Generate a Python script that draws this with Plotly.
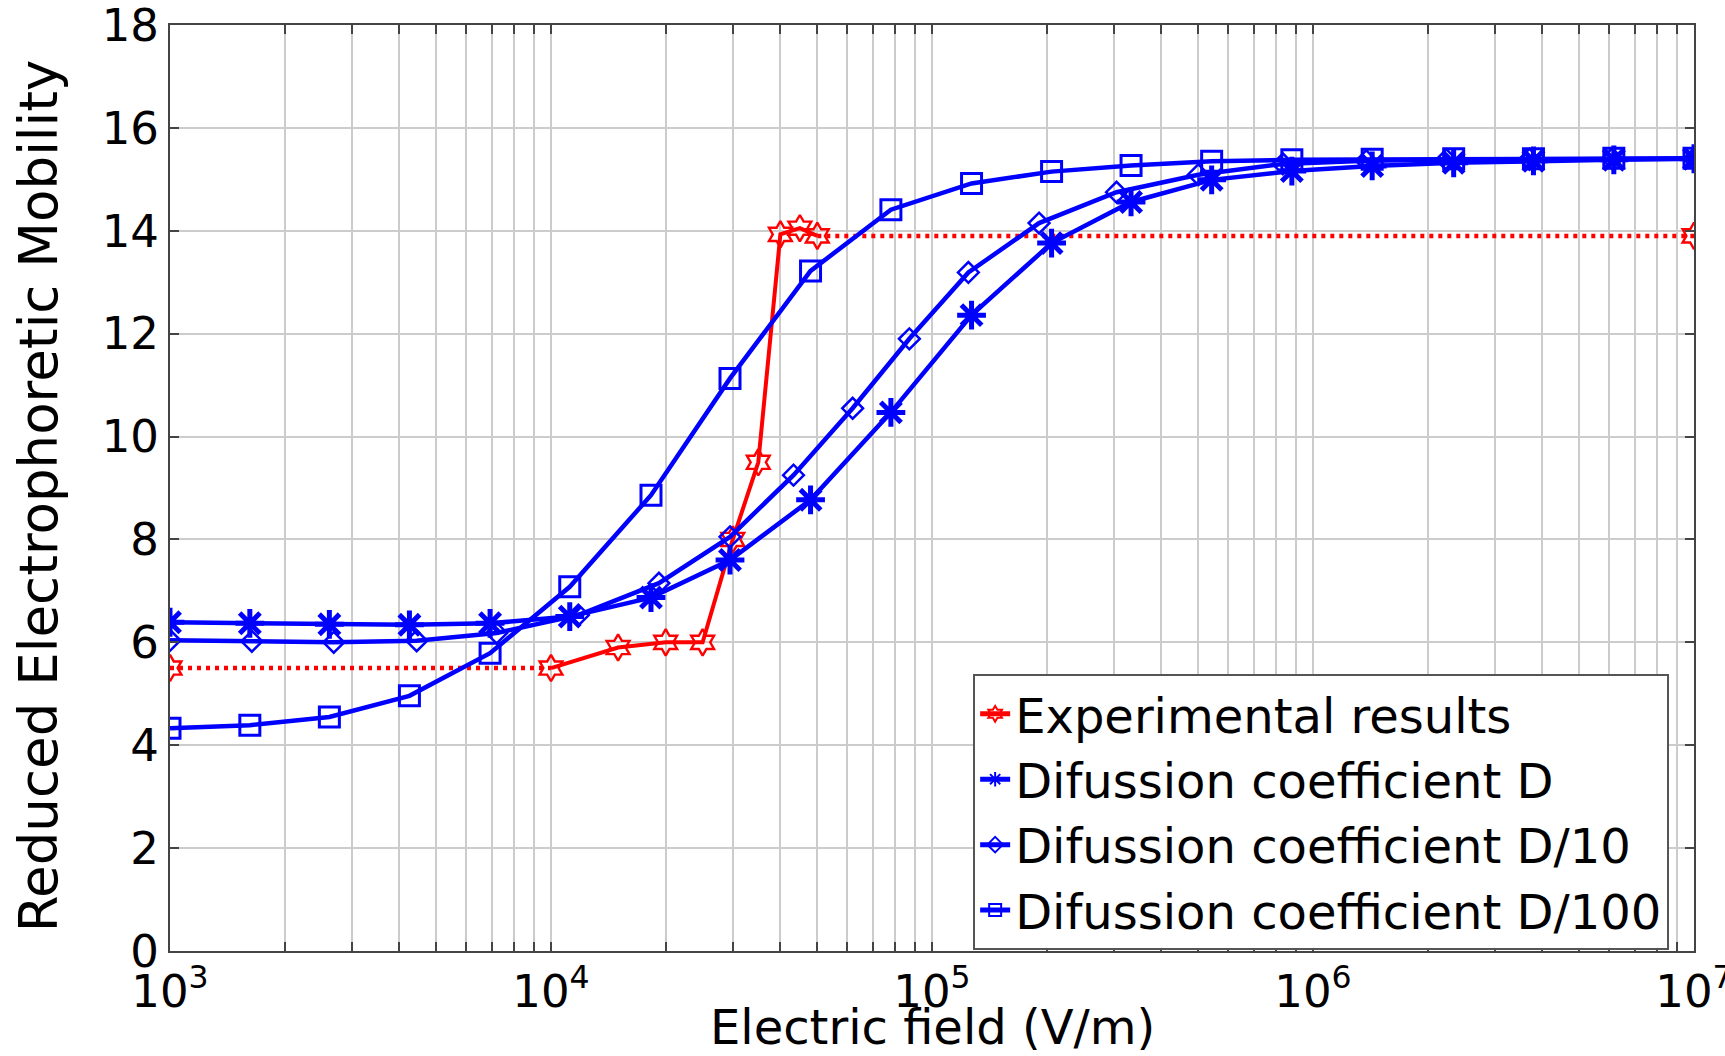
import plotly.graph_objects as go

# Measured reduced electrophoretic mobility (stars)
exp_field = [1e3, 1e4, 1.5e4, 2e4, 2.5e4, 3e4, 3.5e4, 4e4, 4.5e4, 5e4, 1e7]
exp_mobility = [5.5, 5.5, 5.9, 6.0, 6.0, 8.0, 9.5, 13.93, 14.05, 13.9, 13.9]

# Simulation, diffusion coefficient D
field_D = [1000, 1620, 2620, 4250, 6920, 11200, 18300, 29500, 48000, 78000,
           127000, 206000, 333000, 542000, 880000, 1430000, 2340000, 3790000,
           6160000, 10000000]
mobility_D = [6.39, 6.37, 6.35, 6.34, 6.37, 6.5, 6.87, 7.6, 8.77, 10.47,
              12.36, 13.76, 14.56, 14.99, 15.16, 15.26, 15.32, 15.36, 15.38, 15.4]

# Simulation, diffusion coefficient D/10
field_D10 = [1000, 1640, 2690, 4440, 7200, 11800, 19200, 29500, 43300, 61900,
             87200, 124600, 191000, 305000, 500000, 834000, 1380000, 2240000,
             3700000, 6100000, 10000000]
mobility_D10 = [6.04, 6.02, 6.0, 6.03, 6.18, 6.53, 7.15, 8.05, 9.25, 10.55,
                11.9, 13.19, 14.15, 14.75, 15.09, 15.3, 15.36, 15.38, 15.39, 15.4, 15.4]

# Simulation, diffusion coefficient D/100
field_D100 = field_D
mobility_D100 = [4.33, 4.39, 4.55, 4.96, 5.79, 7.08, 8.86, 11.13, 13.22, 14.41,
                 14.92, 15.15, 15.27, 15.35, 15.38, 15.39, 15.4, 15.4, 15.41, 15.41]

series_names = ["Experimental results", "Difussion coefficient D",
                "Difussion coefficient D/10", "Difussion coefficient D/100"]

y_ticks = [0, 2, 4, 6, 8, 10, 12, 14, 16, 18]
x_ticks = [1e3, 1e4, 1e5, 1e6, 1e7]
x_tick_labels = ["10<sup>3</sup>", "10<sup>4</sup>", "10<sup>5</sup>",
                 "10<sup>6</sup>", "10<sup>7</sup>"]
x_title = "Electric field (V/m)"
y_title = "Reduced Electrophoretic Mobility"

RED = "#ff0000"
BLUE = "#0000ff"
FONT = "DejaVu Sans"

fig = go.Figure()

# Dotted extensions of the measurements towards both ends of the field range
fig.add_trace(go.Scatter(
    x=exp_field[:2] + [None] + exp_field[-2:],
    y=exp_mobility[:2] + [None] + exp_mobility[-2:],
    mode="lines", line=dict(color=RED, width=4.5, dash="4px,5px"),
    showlegend=False, hoverinfo="skip"))

# Measured points joined by a solid line
fig.add_trace(go.Scatter(
    x=exp_field[1:-1], y=exp_mobility[1:-1], name=series_names[0],
    mode="lines+markers", line=dict(color=RED, width=4),
    marker=dict(symbol="hexagram-open", size=20, color=RED,
                line=dict(color=RED, width=2.4))))

# End markers of the measured data
fig.add_trace(go.Scatter(
    x=[exp_field[0], exp_field[-1]], y=[exp_mobility[0], exp_mobility[-1]],
    mode="markers", showlegend=False,
    marker=dict(symbol="hexagram-open", size=20, color=RED,
                line=dict(color=RED, width=2.4))))

fig.add_trace(go.Scatter(
    x=field_D, y=mobility_D, name=series_names[1], mode="lines+markers",
    line=dict(color=BLUE, width=4.5),
    marker=dict(symbol="asterisk-open", size=24, color=BLUE,
                line=dict(color=BLUE, width=5))))

fig.add_trace(go.Scatter(
    x=field_D10, y=mobility_D10, name=series_names[2], mode="lines+markers",
    line=dict(color=BLUE, width=4.5),
    marker=dict(symbol="diamond-open", size=16, color=BLUE,
                line=dict(color=BLUE, width=2.5))))

fig.add_trace(go.Scatter(
    x=field_D100, y=mobility_D100, name=series_names[3], mode="lines+markers",
    line=dict(color=BLUE, width=4.5),
    marker=dict(symbol="square-open", size=20, color=BLUE,
                line=dict(color=BLUE, width=3))))

GRID = "#cccccc"
AXIS = "#444444"

fig.update_layout(
    width=1725, height=1056,
    margin=dict(l=170, r=31, t=25, b=105),
    paper_bgcolor="white", plot_bgcolor="white",
    font=dict(family=FONT, size=45, color="black"),
    legend=dict(x=0.527, y=0.299, xanchor="left", yanchor="top",
                bgcolor="white", bordercolor="#555555", borderwidth=2,
                font=dict(family=FONT, size=48, color="black"),
                itemsizing="constant", itemwidth=30, tracegroupgap=0),
    annotations=[
        dict(text=x_title, xref="paper", yref="paper", x=0.5, y=-0.082,
             xanchor="center", yanchor="middle", showarrow=False,
             font=dict(family=FONT, size=48, color="black")),
        dict(text=y_title, xref="paper", yref="paper", x=-0.0866, y=0.491,
             xanchor="center", yanchor="middle", textangle=-90, showarrow=False,
             font=dict(family=FONT, size=53, color="black")),
    ],
)

fig.update_xaxes(
    type="log", range=[3, 7], tickmode="array",
    tickvals=x_ticks, ticktext=x_tick_labels, automargin=False,
    ticklabeloverflow="allow", ticklabelstandoff=0,
    showgrid=True, gridcolor=GRID, gridwidth=1.5,
    ticks="inside", ticklen=9, tickwidth=1.5, tickcolor=AXIS,
    showline=True, linecolor=AXIS, linewidth=2, mirror="ticks",
    minor=dict(ticks="inside", ticklen=9, tickwidth=1.5, tickcolor=AXIS,
               showgrid=True, gridcolor=GRID, gridwidth=1.5,
               tickvals=[m * 10 ** e for e in range(3, 7) for m in range(2, 10)]),
    tickfont=dict(size=45), zeroline=False,
)

fig.update_yaxes(
    range=[0, 18], tickmode="array", tickvals=y_ticks, automargin=False,
    ticklabeloverflow="allow",
    showgrid=True, gridcolor=GRID, gridwidth=1.5,
    ticks="inside", ticklen=9, tickwidth=1.5, tickcolor=AXIS,
    showline=True, linecolor=AXIS, linewidth=2, mirror="ticks",
    tickfont=dict(size=45), zeroline=False,
)

fig.write_html("out.html")
